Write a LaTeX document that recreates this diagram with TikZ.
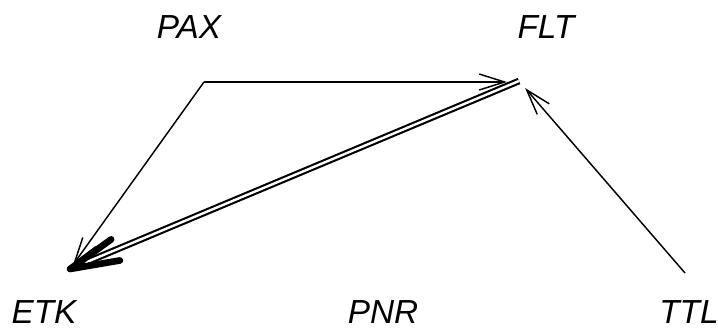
\documentclass[tikz,border=0pt]{standalone}
\usepackage{fontspec}
\setmainfont{Liberation Sans}
\usetikzlibrary{arrows.meta,calc}

\tikzset{every picture/.style={line width=0.75pt}}
\tikzset{
  lbl/.style={inner sep=0pt, font=\fontsize{25}{30}\selectfont\itshape},
  edge/.style={line width=1.1pt, -{Straight Barb[length=19pt,width=12pt,line width=1.1pt]}},
  dbl/.style={double, double distance=1.8pt, line width=1.6pt},
  fatbarb/.style={line width=5pt, line cap=round, line join=round}
}

\begin{document}
\begin{tikzpicture}[x=0.75pt,y=0.75pt,yscale=-1,xscale=1]
\useasboundingbox (0,0) rectangle (718,329);

% Vertices
\coordinate (pax) at (204,82);
\coordinate (flt) at (519,81);
\coordinate (etk) at (70,269);
\coordinate (ttl) at (685,273);

% Text Node
\node [lbl] (paxl) at (189,27.5) {PAX};
% Text Node
\node [lbl] (fltl) at (546,27.5) {FLT};
% Text Node
\node [lbl] (etkl) at (44,312) {ETK};
% Text Node
\node [lbl] (pnrl) at (383,312) {PNR};
% Text Node
\node [lbl] (ttll) at (689,312) {TTL};

% Straight Lines
\draw [edge, shorten >=9pt] (pax) -- (pax -| flt);
% Straight Lines
\draw [edge, shorten >=4pt] (pax) -- (etk);
% Straight Lines
\draw [edge, shorten >=7pt] (ttl) -- (flt);
% Double line
\draw [dbl, shorten >=12pt] (flt) -- (etk);
\draw [fatbarb] ($(etk)!38pt!13:(flt)$) -- (etk) -- ($(etk)!38pt!-13:(flt)$);

\end{tikzpicture}
\end{document}
